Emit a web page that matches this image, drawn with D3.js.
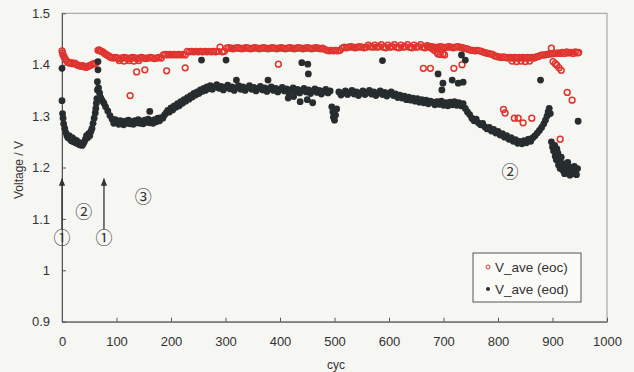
<!DOCTYPE html>
<html>
<head>
<meta charset="utf-8">
<script src="https://cdn.jsdelivr.net/npm/d3@7"></script>
<style>
  html, body { margin: 0; padding: 0; background: #f6f6f2; }
  svg { display: block; font-family: "Liberation Sans", Arial, sans-serif; }
  .axis text { fill: #333; font-size: 13px; }
  .axis path, .axis line { stroke: #555; }
</style>
</head>
<body>
<div id="chart"></div>
<script>
// tick values
const xTicks = [0, 100, 200, 300, 400, 500, 600, 700, 800, 900, 1000];
const yTicks = [0.9, 1, 1.1, 1.2, 1.3, 1.4, 1.5];

// V_ave (eoc) -- [cyc, voltage]
const eocPoints = [
  [0,1.427],[1,1.423],[2,1.419],[4,1.415],[6,1.411],[8,1.408],[11,1.405],[14,1.403],[17,1.404],[20,1.402],
  [23,1.403],[26,1.401],[29,1.399],[32,1.398],[35,1.397],[38,1.398],[41,1.396],[44,1.395],[47,1.396],[50,1.398],
  [53,1.399],[56,1.401],[59,1.402],[62,1.403],
  [66,1.428],[68,1.429],[70,1.427],[72,1.426],[75,1.425],[78,1.422],[81,1.420],[84,1.418],[87,1.416],[90,1.414],
  [94,1.413],[98,1.414],[102,1.413],[106,1.412],[110,1.413],[114,1.414],[118,1.413],[122,1.412],[126,1.413],[130,1.414],
  [134,1.413],[138,1.412],[142,1.413],[146,1.414],[150,1.413],[154,1.412],[158,1.413],[162,1.414],[166,1.413],[170,1.412],
  [174,1.413],[178,1.414],[182,1.413],
  [105,1.408],[114,1.407],[123,1.408],[132,1.407],[141,1.408],[125,1.340],[137,1.386],[152,1.390],[192,1.388],[226,1.394],
  [186,1.419],[190,1.420],[194,1.419],[198,1.420],[202,1.419],[206,1.420],[210,1.419],[214,1.420],[218,1.419],[222,1.420],[226,1.419],
  [230,1.426],[234,1.425],[238,1.426],[242,1.425],[246,1.426],[250,1.425],[254,1.426],[258,1.425],[262,1.426],[266,1.425],
  [270,1.426],[274,1.425],[278,1.426],[282,1.425],[286,1.426],[290,1.434],[294,1.425],[298,1.426],
  [302,1.432],[306,1.433],[310,1.432],[314,1.431],[318,1.432],[322,1.433],[326,1.432],[330,1.431],[334,1.432],[338,1.433],
  [342,1.432],[346,1.431],[350,1.432],[354,1.433],[358,1.432],[362,1.431],[366,1.432],[370,1.433],[374,1.432],[378,1.431],
  [382,1.432],[386,1.433],[390,1.432],[394,1.431],[398,1.432],[402,1.433],[406,1.432],[410,1.431],[414,1.432],[418,1.433],
  [422,1.432],[426,1.431],[430,1.432],[434,1.433],[438,1.432],[442,1.431],[446,1.432],[450,1.433],[454,1.432],[458,1.431],
  [462,1.432],[466,1.433],[470,1.432],[474,1.431],[478,1.432],[482,1.430],[486,1.428],[490,1.427],[494,1.428],[498,1.427],
  [502,1.428],[506,1.427],[510,1.428],[514,1.432],[518,1.434],[522,1.433],[526,1.434],[530,1.435],[534,1.434],[538,1.433],
  [542,1.434],[546,1.435],[550,1.434],[554,1.433],[558,1.434],[562,1.438],[566,1.435],[570,1.434],[574,1.438],[578,1.434],
  [582,1.435],[586,1.439],[590,1.434],[594,1.433],[598,1.438],[602,1.434],[606,1.435],[610,1.439],[614,1.434],[618,1.433],
  [622,1.438],[626,1.434],[630,1.435],[634,1.439],[638,1.434],[642,1.433],[646,1.438],[650,1.434],[654,1.435],[658,1.439],
  [662,1.434],[666,1.433],[670,1.437],[674,1.434],[678,1.435],[682,1.434],[686,1.433],[690,1.434],[694,1.435],[698,1.434],
  [702,1.433],[706,1.434],[710,1.435],[714,1.434],[718,1.433],[722,1.434],[726,1.435],[730,1.434],[734,1.433],[738,1.432],
  [742,1.431],[746,1.430],[750,1.428],[754,1.428],[758,1.427],[762,1.428],[766,1.427],[770,1.426],[774,1.424],[778,1.423],
  [782,1.422],[786,1.421],[790,1.420],[794,1.417],[798,1.416],[802,1.415],[806,1.414],[810,1.415],[814,1.414],[818,1.413],
  [822,1.414],[826,1.413],[830,1.414],[834,1.413],[838,1.414],[842,1.413],[846,1.414],[850,1.413],[854,1.414],[858,1.413],
  [862,1.414],[866,1.413],[870,1.415],[874,1.416],[878,1.418],[882,1.419],[886,1.419],[890,1.420],[894,1.421],[898,1.421],
  [902,1.422],[906,1.422],[910,1.423],[914,1.422],[918,1.424],[922,1.422],[926,1.425],[930,1.423],[934,1.424],[938,1.422],
  [942,1.425],[946,1.423],[948,1.424],
  [397,1.401],[663,1.393],[676,1.393],[719,1.393],[734,1.400],
  [672,1.436],[678,1.432],[683,1.428],[688,1.424],[690,1.421],[694,1.420],[699,1.421],[702,1.419],
  [810,1.313],[813,1.306],[830,1.296],[837,1.296],[846,1.287],[862,1.296],
  [826,1.407],[834,1.406],[842,1.407],[850,1.406],[858,1.407],
  [898,1.432],[901,1.406],[905,1.402],[908,1.399],[912,1.394],[916,1.389],[927,1.346],[936,1.331],[914,1.255]
];

// V_ave (eod) -- [cyc, voltage]
const eodPoints = [
  [0,1.393],[0,1.330],[1,1.305],[2,1.296],[3,1.285],[5,1.276],[7,1.268],[9,1.262],[11,1.258],[13,1.262],
  [15,1.255],[17,1.252],[19,1.258],[21,1.250],[23,1.254],[25,1.248],[27,1.252],[29,1.246],[31,1.249],[33,1.244],
  [35,1.247],[37,1.243],[39,1.246],[41,1.250],[43,1.255],[45,1.262],[47,1.258],[49,1.266],[51,1.262],[53,1.270],
  [55,1.276],[57,1.286],[59,1.296],[61,1.306],[62,1.315],[63,1.325],[64,1.334],[65,1.351],[65,1.367],[66,1.390],
  [66,1.406],[67,1.355],[69,1.345],[71,1.336],[74,1.330],[77,1.325],[80,1.318],[84,1.310],[88,1.301],[92,1.294],
  [95,1.286],[98,1.293],[101,1.288],[104,1.284],[107,1.291],[110,1.287],[113,1.283],[116,1.290],[119,1.286],[122,1.292],
  [125,1.285],[128,1.289],[131,1.284],[134,1.291],[137,1.287],[140,1.293],[143,1.286],[146,1.290],[149,1.285],[152,1.292],
  [155,1.288],[158,1.294],[161,1.309],[161,1.287],[164,1.291],[167,1.286],[170,1.293],[173,1.289],[176,1.296],[179,1.291],
  [182,1.297],[185,1.296],[188,1.302],[191,1.306],[194,1.311],[197,1.308],[200,1.316],[203,1.312],[206,1.320],[209,1.317],
  [212,1.324],[215,1.320],[218,1.328],[221,1.325],[224,1.332],[227,1.329],[230,1.336],[233,1.333],[236,1.340],[239,1.337],
  [242,1.344],[245,1.341],[248,1.347],[251,1.344],[254,1.351],[257,1.348],[260,1.354],[263,1.350],[266,1.357],[269,1.353],
  [272,1.359],[276,1.352],[280,1.357],[284,1.361],[288,1.354],[292,1.358],[296,1.351],[300,1.356],[304,1.360],[308,1.353],
  [312,1.357],[316,1.350],[320,1.370],[320,1.355],[324,1.359],[328,1.352],[332,1.357],[336,1.350],[340,1.355],[344,1.359],
  [348,1.352],[352,1.356],[356,1.349],[360,1.354],[364,1.358],[368,1.351],[372,1.355],[376,1.348],[378,1.370],[380,1.353],
  [384,1.357],[388,1.350],[392,1.354],[396,1.347],[400,1.352],[404,1.356],[408,1.349],[412,1.353],[415,1.335],[416,1.346],
  [420,1.351],[424,1.355],[425,1.338],[428,1.348],[432,1.352],[436,1.345],[437,1.328],[440,1.350],[444,1.354],[448,1.347],
  [450,1.332],[452,1.351],[456,1.344],[460,1.326],[460,1.349],[464,1.353],[468,1.346],[472,1.350],[476,1.343],[480,1.348],
  [484,1.352],[488,1.345],[492,1.349],
  [495,1.318],[497,1.308],[498,1.298],[500,1.292],[502,1.302],[504,1.314],
  [508,1.347],[512,1.341],[516,1.345],[520,1.349],[524,1.342],[528,1.346],[532,1.350],[536,1.343],[540,1.347],[544,1.340],
  [548,1.345],[552,1.349],[556,1.342],[560,1.346],[564,1.350],[568,1.343],[572,1.347],[576,1.340],[580,1.345],[584,1.349],
  [588,1.342],[592,1.346],[596,1.339],[600,1.344],[604,1.347],[608,1.340],[612,1.343],[616,1.336],[620,1.341],[624,1.335],
  [628,1.339],[632,1.332],[636,1.337],[640,1.331],[644,1.335],[648,1.329],[652,1.334],[656,1.327],[660,1.332],[664,1.326],
  [668,1.331],[672,1.324],[676,1.329],[680,1.327],[684,1.322],[688,1.328],[692,1.323],[696,1.329],[700,1.321],[704,1.326],
  [708,1.320],[712,1.327],[716,1.322],[720,1.328],[724,1.321],[728,1.326],[732,1.320],[736,1.324],[740,1.315],[744,1.308],
  [748,1.303],[752,1.296],[756,1.291],[760,1.294],[764,1.287],[768,1.283],[772,1.286],[776,1.279],[780,1.275],[784,1.278],
  [788,1.271],[792,1.274],[796,1.267],[800,1.270],[804,1.263],[808,1.266],[812,1.259],[816,1.262],[820,1.255],[824,1.258],
  [828,1.251],[832,1.254],[836,1.247],[840,1.251],[844,1.246],[848,1.252],[852,1.248],[856,1.255],[860,1.251],[864,1.258],
  [868,1.262],[872,1.267],[876,1.272],[880,1.278],[884,1.285],[887,1.292],[890,1.300],[892,1.308],[894,1.315],[896,1.305],
  [898,1.250],[900,1.240],[902,1.232],[904,1.243],[905,1.222],[907,1.215],[908,1.236],[910,1.228],[911,1.205],[913,1.212],
  [914,1.198],[916,1.220],[918,1.208],[920,1.193],[922,1.188],[924,1.203],[926,1.196],[928,1.210],[930,1.190],[932,1.185],
  [934,1.200],[936,1.195],[938,1.188],[940,1.202],[942,1.195],[944,1.186],[946,1.198],[947,1.290],
  [256,1.409],[301,1.409],[440,1.404],[451,1.401],[452,1.382],[588,1.408],
  [690,1.382],[697,1.351],[699,1.364],[716,1.370],[727,1.364],[736,1.366],[733,1.419],[740,1.409],[878,1.370]
];

// annotations: [cyc, voltage, label]
const notes = [[0, 1.062, "\u2460"], [77, 1.062, "\u2460"], [40, 1.113, "\u2461"], [149, 1.143, "\u2462"], [822, 1.191, "\u2461"]];
const arrowsAt = [0, 77];

const width = 634, height = 372;
const margin = {top: 13.3, right: 27, bottom: 50.3, left: 62};

const svg = d3.select("#chart").append("svg")
  .attr("width", width)
  .attr("height", height);

const x = d3.scaleLinear().domain([0, 1000]).range([margin.left, width - margin.right]);
const y = d3.scaleLinear().domain([0.9, 1.5]).range([height - margin.bottom, margin.top]);

// frame (top + right border are lighter)
svg.append("rect")
  .attr("x", x(0)).attr("y", y(1.5))
  .attr("width", x(1000) - x(0)).attr("height", y(0.9) - y(1.5))
  .attr("fill", "none").attr("stroke", "#9a9a96");

// axes
svg.append("g")
  .attr("class", "axis")
  .attr("transform", `translate(0,${y(0.9)})`)
  .call(d3.axisBottom(x).tickValues(xTicks).tickFormat(d3.format("d"))
    .tickSizeInner(-4).tickSizeOuter(0).tickPadding(15));

svg.append("g")
  .attr("class", "axis")
  .attr("transform", `translate(${x(0)},0)`)
  .call(d3.axisLeft(y).tickValues(yTicks).tickFormat(d3.format("~g"))
    .tickSizeInner(-4).tickSizeOuter(0).tickPadding(12));

// axis titles
svg.append("text")
  .attr("x", 336).attr("y", 369)
  .attr("text-anchor", "middle")
  .attr("font-size", 12).attr("fill", "#333")
  .text("cyc");

svg.append("text")
  .attr("transform", "translate(23,170) rotate(-90)")
  .attr("text-anchor", "middle")
  .attr("font-size", 12).attr("fill", "#333")
  .text("Voltage / V");

// series: eoc first, eod drawn on top
svg.append("g")
  .selectAll("circle")
  .data(eocPoints)
  .join("circle")
    .attr("cx", d => x(d[0]))
    .attr("cy", d => y(d[1]))
    .attr("r", 2.9)
    .attr("fill", "none")
    .attr("stroke", "#e0342f")
    .attr("stroke-width", 1.5);

svg.append("g")
  .selectAll("circle")
  .data(eodPoints)
  .join("circle")
    .attr("cx", d => x(d[0]))
    .attr("cy", d => y(d[1]))
    .attr("r", 3.4)
    .attr("fill", "#272c2f");

// arrows
svg.append("defs").append("marker")
  .attr("id", "head")
  .attr("viewBox", "0 0 10 10")
  .attr("refX", 9).attr("refY", 5)
  .attr("markerWidth", 6).attr("markerHeight", 6)
  .attr("orient", "auto")
  .append("path")
    .attr("d", "M0,1 L10,5 L0,9 Z")
    .attr("fill", "#333");

svg.append("g")
  .selectAll("line")
  .data(arrowsAt)
  .join("line")
    .attr("x1", d => x(d)).attr("x2", d => x(d))
    .attr("y1", y(1.08)).attr("y2", y(1.178))
    .attr("stroke", "#333").attr("stroke-width", 1.3)
    .attr("marker-end", "url(#head)");

svg.append("g")
  .selectAll("text")
  .data(notes)
  .join("text")
    .attr("x", d => x(d[0]))
    .attr("y", d => y(d[1]))
    .attr("dy", "0.35em")
    .attr("text-anchor", "middle")
    .attr("font-family", "'Noto Sans CJK JP', 'DejaVu Sans', sans-serif")
    .attr("font-size", 17)
    .attr("fill", "#333")
    .text(d => d[2]);

// legend
const legend = svg.append("g").attr("transform", "translate(473,253)");
legend.append("rect")
  .attr("width", 108).attr("height", 49)
  .attr("fill", "#fafaf7").attr("stroke", "#555");

const legendItems = [["V_ave (eoc)", "eoc"], ["V_ave (eod)", "eod"]];
legendItems.forEach((it, i) => {
  const cy = 14 + i * 22;
  const c = legend.append("circle").attr("cx", 15).attr("cy", cy).attr("r", 2);
  if (it[1] === "eoc") c.attr("fill", "none").attr("stroke", "#e0342f").attr("stroke-width", 1);
  else c.attr("fill", "#272c2f");
  legend.append("text")
    .attr("x", 22).attr("y", cy + 5)
    .attr("font-size", 13.5).attr("fill", "#333")
    .text(it[0]);
});
</script>
</body>
</html>
